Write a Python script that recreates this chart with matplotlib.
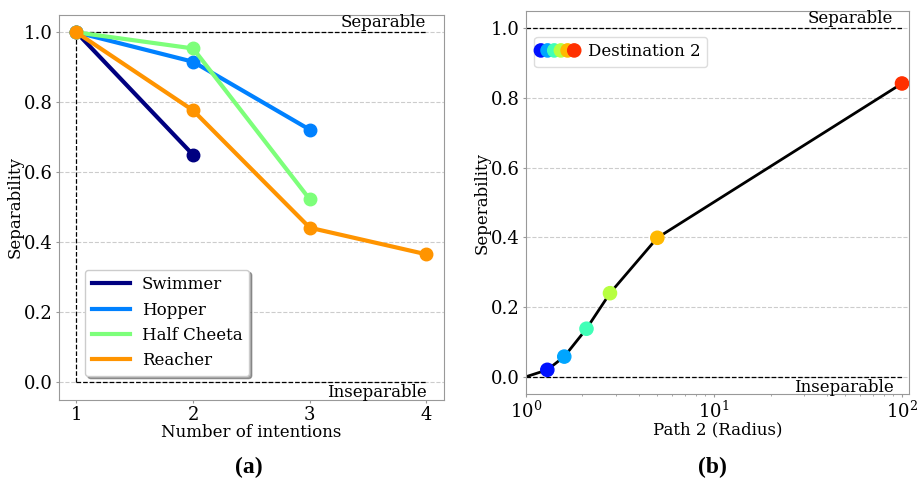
import matplotlib.pyplot as plt
from matplotlib.legend_handler import HandlerPathCollection
import numpy as np

plt.rcParams['font.family'] = 'DejaVu Serif'

# (a) separabilidad frente al numero de intenciones
entornos = ['Swimmer', 'Hopper', 'Half Cheeta', 'Reacher']
intenciones = [[1, 2], [1, 2, 3], [1, 2, 3], [1, 2, 3, 4]]
separabilidad = [[1.0, 0.65],
                 [1.0, 0.916, 0.722],
                 [1.0, 0.954, 0.523],
                 [1.0, 0.777, 0.442, 0.366]]

# (b) separabilidad frente al radio del camino 2
radio = [1.3, 1.6, 2.1, 2.8, 5.0, 100.0]
seperabilidad = [0.02, 0.058, 0.138, 0.24, 0.399, 0.842]
radio_linea = [1.0] + radio
seperabilidad_linea = [0.0] + seperabilidad

fig = plt.figure(figsize=(9.21, 4.79), dpi=100)
ax1 = fig.add_axes([0.064, 0.165, 0.418, 0.804])
ax2 = fig.add_axes([0.571, 0.177, 0.416, 0.800])

colores = plt.cm.jet(np.arange(4) / 4)
colores_b = plt.cm.jet(np.linspace(0, 1, 8))[1:7]

for ax in (ax1, ax2):
    ax.grid(True, axis='y', linestyle='--', color='#cccccc', linewidth=0.8)
    ax.set_axisbelow(True)
    for s in ax.spines.values():
        s.set_color('#999999')
    ax.tick_params(labelsize=13, color='#999999', length=2.5, pad=2)
    ax.tick_params(which='minor', color='#999999', length=1.5)

# Grafico (a)
ax1.plot([1, 4], [1, 1], 'k--', lw=0.9)
ax1.plot([1, 4], [0, 0], 'k--', lw=0.9)
ax1.plot([1, 1], [0, 1], 'k--', lw=0.9)
for nombre, x, y, c in zip(entornos, intenciones, separabilidad, colores):
    ax1.plot(x, y, '-', color=c, lw=3, label=nombre)
    ax1.plot(x, y, 'o', color=c, ms=9)
ax1.text(4, 1.005, 'Separable', ha='right', va='bottom', fontsize=12)
ax1.text(4, -0.005, 'Inseparable', ha='right', va='top', fontsize=12)
ax1.set_xlim(0.85, 4.15)
ax1.set_ylim(-0.05, 1.05)
ax1.set_xticks([1, 2, 3, 4])
ax1.set_yticks([0, 0.2, 0.4, 0.6, 0.8, 1.0])
ax1.set_xlabel('Number of intentions', fontsize=12, labelpad=0)
ax1.set_ylabel('Separability', fontsize=12, labelpad=0)
ax1.legend(loc='lower left', bbox_to_anchor=(0.046, 0.041), fontsize=12,
           shadow=True, framealpha=1, edgecolor='#cccccc', handlelength=2.3,
           handletextpad=0.7)

# Grafico (b)
ax2.plot([1, 100], [1, 1], 'k--', lw=0.9)
ax2.plot([1, 100], [0, 0], 'k--', lw=0.9)
ax2.plot(radio_linea, seperabilidad_linea, 'k-', lw=2)
sc = ax2.scatter(radio, seperabilidad, c=colores_b, s=90, zorder=3,
                 label='Destination 2')
ax2.text(90, 1.005, 'Separable', ha='right', va='bottom', fontsize=12)
ax2.text(90, -0.005, 'Inseparable', ha='right', va='top', fontsize=12)
ax2.set_xscale('log')
ax2.set_xlim(1, 109)
ax2.set_ylim(-0.05, 1.05)
ax2.set_yticks([0, 0.2, 0.4, 0.6, 0.8, 1.0])
ax2.set_xlabel('Path 2 (Radius)', fontsize=12, labelpad=0)
ax2.set_ylabel('Seperability', fontsize=12, labelpad=0)
ax2.legend(loc='upper left', bbox_to_anchor=(0.0, 0.955), scatterpoints=6,
           scatteryoffsets=[0.5], fontsize=12, handlelength=2.0,
           handletextpad=0.8, edgecolor='#dddddd', framealpha=1,
           handler_map={type(sc): HandlerPathCollection(marker_pad=0)})

fig.text(0.27, 0.012, '(a)', ha='center', fontsize=17, fontweight='bold',
         family='Liberation Serif')
fig.text(0.774, 0.012, '(b)', ha='center', fontsize=17, fontweight='bold',
         family='Liberation Serif')

plt.savefig('out.png', dpi=100)
